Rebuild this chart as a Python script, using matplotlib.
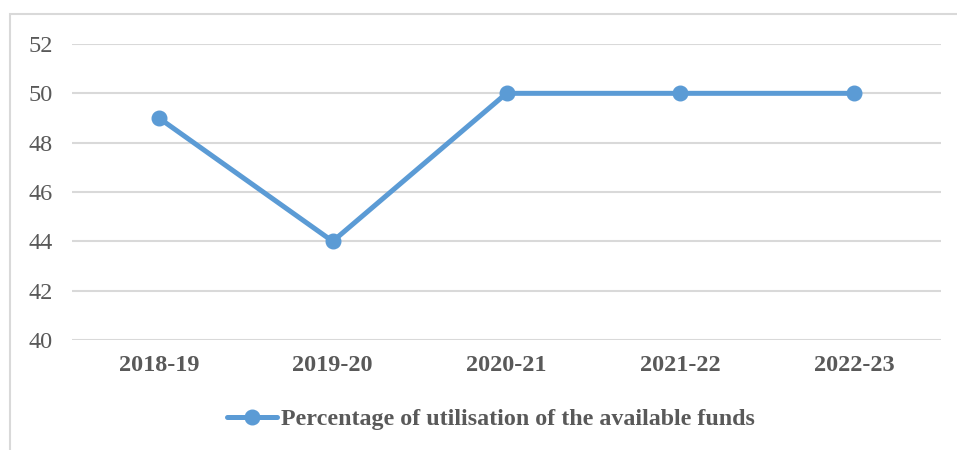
import matplotlib
matplotlib.use("Agg")
import matplotlib.pyplot as plt
from matplotlib.patches import Rectangle

years = ["2018-19", "2019-20", "2020-21", "2021-22", "2022-23"]
utilisation = [49, 44, 50, 50, 50]
y_ticks = [40, 42, 44, 46, 48, 50, 52]
series_name = "Percentage of utilisation of the available funds"

plt.rcParams["font.family"] = ["Liberation Serif", "DejaVu Serif"]

W, H = 957, 450
fig = plt.figure(figsize=(W / 100, H / 100), dpi=100)

# outer chart frame
fig.patches.append(Rectangle((10 / W, -0.05), 1.2, (H - 14) / H + 0.05,
                             transform=fig.transFigure, fill=False,
                             edgecolor="#D9D9D9", linewidth=1.5))

ax = fig.add_axes([72 / W, 1 - 340 / H, (941 - 72) / W, (340 - 44) / H])
x = list(range(len(years)))
blue = "#5B9BD5"
ax.plot(x, utilisation, color=blue, linewidth=3.6, marker="o",
        markersize=10.5, label=series_name, zorder=3, solid_capstyle="round")

ax.set_xlim(-0.5, len(years) - 0.5)
ax.set_ylim(40, 52)
ax.set_yticks(y_ticks)
ax.set_xticks(x)
ax.set_xticklabels(years, fontsize=17.5, fontweight="bold", color="#595959")
ax.set_yticklabels([str(v) for v in y_ticks], fontsize=17.5, color="#595959")
ax.tick_params(axis="both", length=0)
ax.tick_params(axis="x", pad=11)
ax.tick_params(axis="y", pad=14)
ax.grid(axis="y", color="#D9D9D9", linewidth=1.5)
ax.set_axisbelow(True)
for s in ax.spines.values():
    s.set_visible(False)

leg = ax.legend(loc="center",
                bbox_to_anchor=((491 - 72) / (941 - 72), (340 - 419) / (340 - 44)),
                bbox_transform=ax.transAxes, frameon=False,
                prop={"size": 17.3, "weight": "bold"}, handlelength=2.1,
                handletextpad=0.15)
for t in leg.get_texts():
    t.set_color("#595959")

fig.savefig("out.png", dpi=100)
